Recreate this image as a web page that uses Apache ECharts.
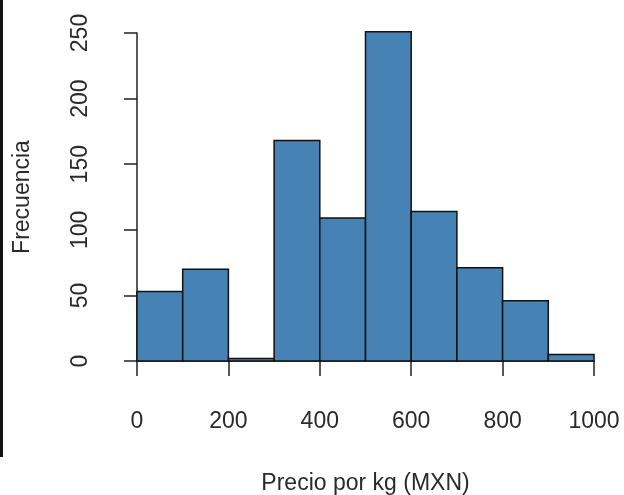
<!DOCTYPE html>
<html>
<head>
<meta charset="utf-8">
<script src="https://cdn.jsdelivr.net/npm/echarts@6/dist/echarts.min.js"></script>
<style>
  html, body { margin: 0; padding: 0; background: #fff; }
  #main { width: 624px; height: 495px; }
</style>
</head>
<body>
<div id="main"></div>
<script>
// histogram bins (precio por kg) and counts
const binStarts = [0, 100, 200, 300, 400, 500, 600, 700, 800, 900]
const binEnds = [100, 200, 300, 400, 500, 600, 700, 800, 900, 1000]
const counts = [53, 70, 2, 168, 109, 251, 114, 71, 46, 5]
const xTicks = [0, 200, 400, 600, 800, 1000]
const yTicks = [0, 50, 100, 150, 200, 250]

const font = "'Liberation Sans', Arial, sans-serif"

let chart = echarts.init(document.getElementById('main'))

let bars = binStarts.map((s, i) => [s, binEnds[i], counts[i]])

let option = {
    animation: false,
    backgroundColor: '#fff',
    grid: {
        left: 137,
        right: 30,
        top: 33,
        bottom: 134,
        outerBoundsMode: 'none'
    },
    xAxis: {
        type: 'value',
        min: xTicks[0],
        max: xTicks[xTicks.length - 1],
        interval: 200,
        offset: 14,
        name: 'Precio por kg (MXN)',
        nameLocation: 'middle',
        nameGap: 97,
        nameTextStyle: { fontFamily: font, fontSize: 23, color: '#2a2a2a' },
        axisLine: { show: true, lineStyle: { color: '#222', width: 1.5 } },
        axisTick: { show: true, length: 15, lineStyle: { color: '#222', width: 1.5 } },
        axisLabel: {
            margin: 35, fontFamily: font, fontSize: 23, color: '#2a2a2a',
            formatter: v => String(v)
        },
        splitLine: { show: false }
    },
    yAxis: {
        type: 'value',
        min: yTicks[0],
        max: yTicks[yTicks.length - 1],
        interval: 50,
        offset: 19,
        name: 'Frecuencia',
        nameLocation: 'middle',
        nameRotate: 90,
        nameGap: 84,
        nameTextStyle: { fontFamily: font, fontSize: 23, color: '#2a2a2a' },
        axisLine: { show: true, lineStyle: { color: '#222', width: 1.5 } },
        axisTick: { show: true, length: 13, lineStyle: { color: '#222', width: 1.5 } },
        axisLabel: {
            rotate: 90, margin: 26, fontFamily: font, fontSize: 23, color: '#2a2a2a',
            formatter: v => String(v)
        },
        splitLine: { show: false }
    },
    graphic: [{
        // dark edge on the left of the original screenshot
        type: 'rect',
        shape: { x: 0, y: 0, width: 3, height: 457 },
        style: { fill: '#111' }
    }],
    series: [{
        type: 'custom',
        data: bars,
        renderItem: function (params, api) {
            let p0 = api.coord([api.value(0), 0])
            let p1 = api.coord([api.value(1), api.value(2)])
            return {
                type: 'rect',
                shape: { x: p0[0], y: p1[1], width: p1[0] - p0[0], height: p0[1] - p1[1] },
                style: { fill: '#4682B4', stroke: '#111', lineWidth: 1.5 }
            }
        }
    }]
}

chart.setOption(option)
</script>
</body>
</html>
